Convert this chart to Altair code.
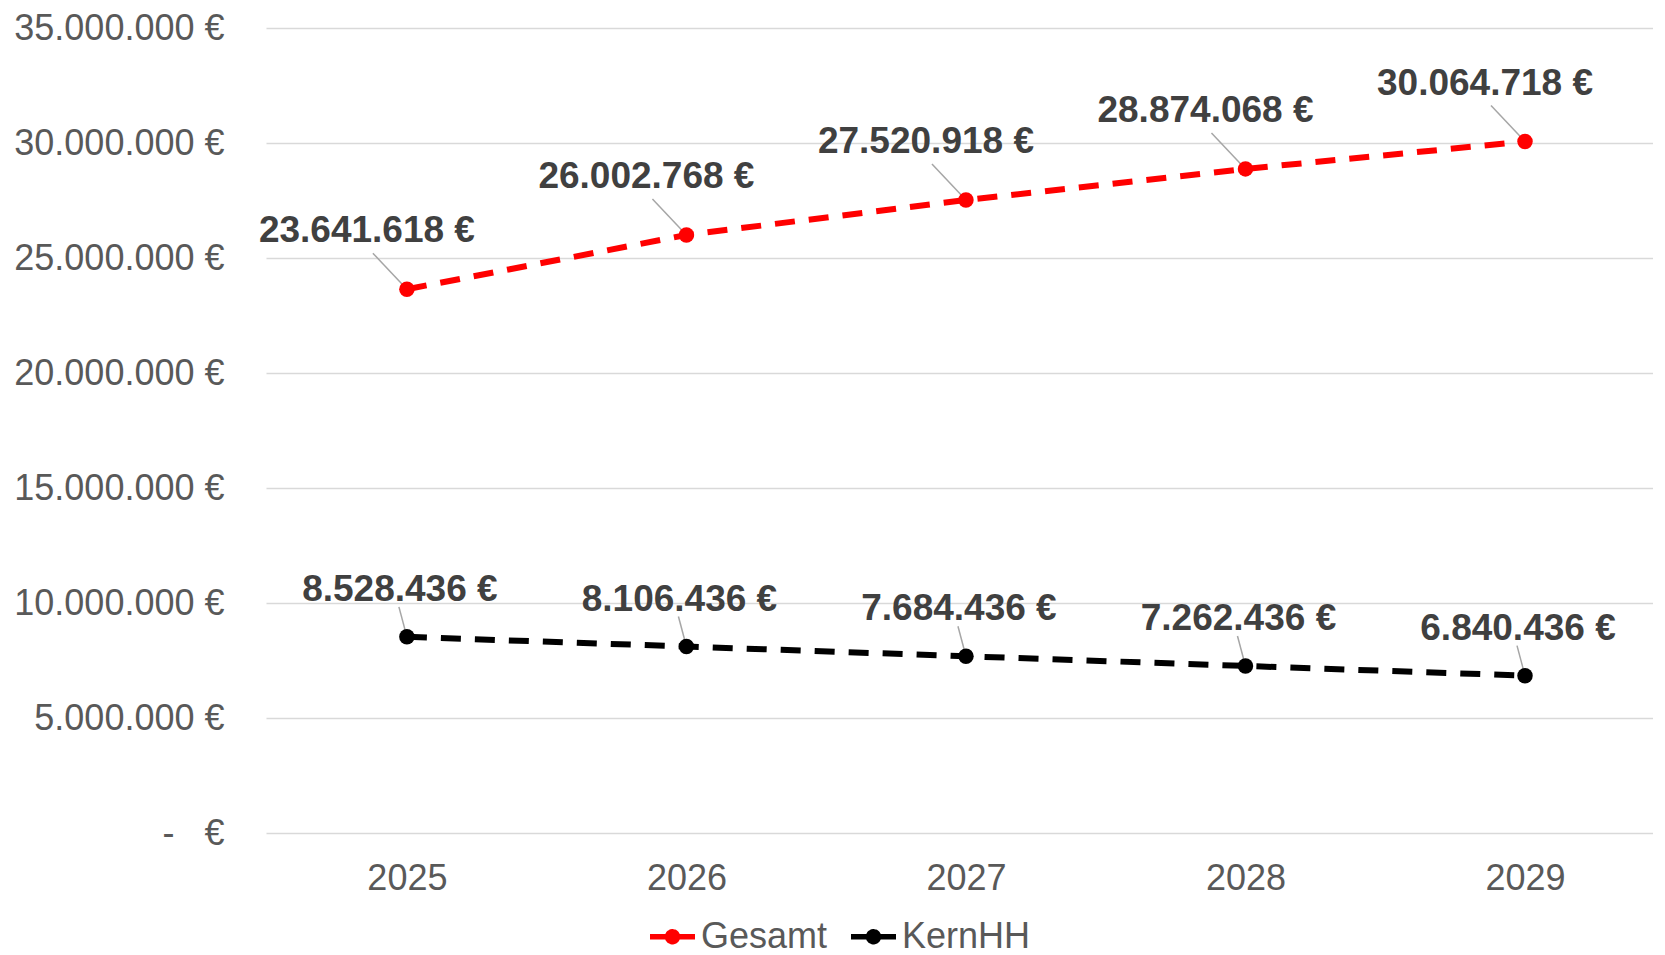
import altair as alt
import pandas as pd

# ---- data ----
years = ["2025", "2026", "2027", "2028", "2029"]
gesamt = [23641618, 26002768, 27520918, 28874068, 30064718]
kernhh = [8528436, 8106436, 7684436, 7262436, 6840436]
series_names = ["Gesamt", "KernHH"]
series_colors = ["#ff0000", "#000000"]
y_ticks = [0, 5000000, 10000000, 15000000, 20000000, 25000000, 30000000, 35000000]


def de_eur(v):
    return f"{v:,}".replace(",", ".") + " €"


rows = []
for name, vals in zip(series_names, [gesamt, kernhh]):
    for yr, v in zip(years, vals):
        rows.append({"Jahr": yr, "Wert": v, "Reihe": name, "Label": de_eur(v)})
df = pd.DataFrame(rows)

FONT = "Liberation Sans"
NBSP = "\u00a0"
zero_label = "-" + NBSP * 3 + "€"

x = alt.X(
    "Jahr:O",
    sort=years,
    scale=alt.Scale(type="point", padding=0.481, align=0.524),
    axis=alt.Axis(
        title=None, labelAngle=0, labelFont=FONT, labelFontSize=36,
        labelColor="#595959", domain=False, ticks=False, tickSize=0,
        labelPadding=28, grid=False,
    ),
)
y = alt.Y(
    "Wert:Q",
    scale=alt.Scale(domain=[0, 35000000], nice=False, zero=True),
    axis=alt.Axis(
        title=None, values=y_ticks, labelFont=FONT, labelFontSize=36,
        labelColor="#595959", domain=False, ticks=False, tickSize=0,
        labelPadding=42, labelLimit=0, grid=True, gridColor="#d9d9d9",
        gridWidth=1.6,
        labelExpr=(
            f"datum.value == 0 ? '{zero_label}' : "
            "replace(format(datum.value, ','), regexp(',', 'g'), '.') + ' €'"
        ),
    ),
)

symbol_path = (
    "M-1,0L1,0"
    "M-0.22,0A0.22,0.22,0,1,0,0.22,0A0.22,0.22,0,1,0,-0.22,0"
    "M-0.08,0A0.08,0.08,0,1,0,0.08,0A0.08,0.08,0,1,0,-0.08,0"
)

color = alt.Color(
    "Reihe:N",
    scale=alt.Scale(domain=series_names, range=series_colors),
    legend=alt.Legend(
        title=None, orient="none", legendX=381, legendY=883,
        direction="horizontal", symbolType=symbol_path, symbolSize=2025,
        symbolStrokeWidth=5.5, labelFont=FONT, labelFontSize=36,
        labelColor="#595959", columnPadding=12, labelOffset=3, padding=0,
        symbolDash=[1, 0],
    ),
)

base = alt.Chart(df).encode(x=x, y=y)

lines = base.mark_line(strokeWidth=6, strokeDash=[20, 14]).encode(color=color)
points = base.mark_point(filled=True, size=240, opacity=1).encode(color=color)

g = base.transform_filter(alt.datum.Reihe == "Gesamt")
k = base.transform_filter(alt.datum.Reihe == "KernHH")

leader_style = dict(color="#a6a6a6", strokeWidth=1.5)
leaders_g = g.mark_rule(x2Offset=-34, y2Offset=-36, **leader_style).encode(
    x2=alt.X2("Jahr"), y2=alt.Y2("Wert")
)
leaders_k = k.mark_rule(x2Offset=-8, y2Offset=-30, **leader_style).encode(
    x2=alt.X2("Jahr"), y2=alt.Y2("Wert")
)

label_style = dict(font=FONT, fontSize=37, fontWeight="bold", color="#404040")
labels_g = g.mark_text(dx=-40, dy=-58, **label_style).encode(text="Label:N")
labels_k = k.mark_text(dx=-7, dy=-47, **label_style).encode(text="Label:N")

chart = (
    alt.layer(lines, leaders_g, leaders_k, points, labels_g, labels_k)
    .properties(
        width=1387,
        height=805,
        padding={"left": 5, "top": 2, "right": 0, "bottom": 0},
        background="white",
    )
    .configure_view(stroke=None)
)

chart.save("out.html", embed_options={"renderer": "svg", "actions": False})
